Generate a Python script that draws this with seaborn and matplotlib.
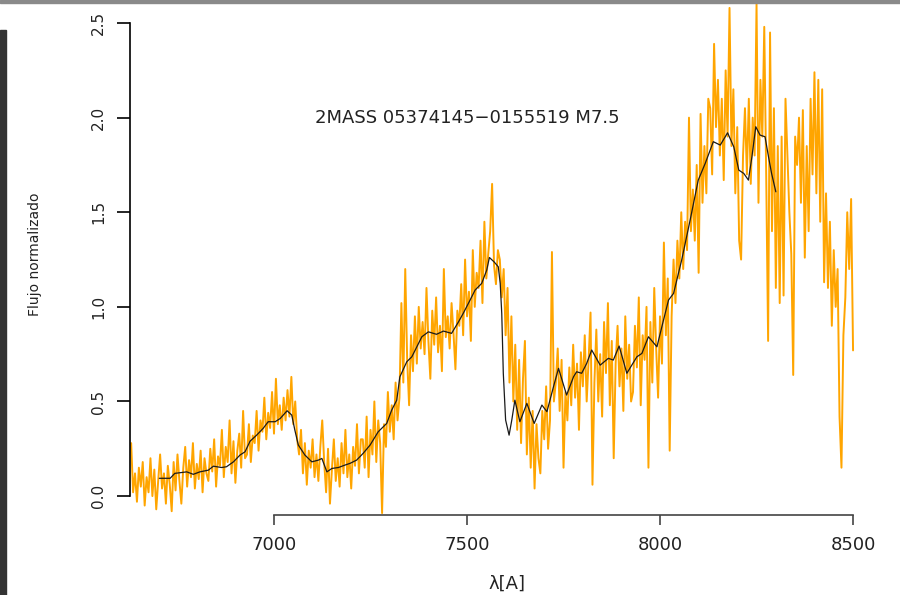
import numpy as np
import pandas as pd
import matplotlib
matplotlib.use('Agg')
import matplotlib.pyplot as plt
from matplotlib.patches import Rectangle
import seaborn as sns

# Espectro observado (flujo normalizado), muestreo cada 5 A desde 6630 hasta 8500
lam_start, lam_step = 6630, 5
flux_6630 = [0.28, 0.02, 0.12, -0.03, 0.15, 0.05, 0.18, -0.05, 0.10, 0.02, 0.20, 0.00, 0.14, -0.07, 0.08, 0.22, 0.04, 0.12, -0.04, 0.16]
flux_6730 = [0.06, -0.08, 0.18, 0.03, 0.22, 0.08, -0.04, 0.15, 0.26, 0.05, 0.19, 0.10, 0.28, 0.04, 0.17, 0.09, 0.24, 0.02, 0.20, 0.12]
flux_6830 = [0.08, 0.25, 0.13, 0.30, 0.05, 0.21, 0.16, 0.35, 0.10, 0.26, 0.18, 0.40, 0.12, 0.29, 0.07, 0.24, 0.33, 0.15, 0.45, 0.20]
flux_6930 = [0.22, 0.38, 0.18, 0.32, 0.28, 0.45, 0.24, 0.40, 0.34, 0.52, 0.30, 0.44, 0.36, 0.55, 0.33, 0.62, 0.38, 0.48, 0.35, 0.52]
flux_7030 = [0.40, 0.56, 0.42, 0.63, 0.38, 0.50, 0.30, 0.22, 0.35, 0.12, 0.28, 0.06, 0.24, 0.15, 0.30, 0.10, 0.22, 0.08, 0.26, 0.40]
flux_7130 = [0.18, 0.02, 0.25, -0.04, 0.14, 0.30, 0.08, 0.20, 0.05, 0.28, 0.12, 0.35, 0.10, 0.22, 0.04, 0.26, 0.16, 0.38, 0.12, 0.30]
flux_7230 = [0.30, 0.15, 0.42, 0.10, 0.35, 0.22, 0.50, 0.18, 0.40, 0.28, -0.09, 0.38, 0.26, 0.55, 0.34, 0.48, 0.30, 0.60, 0.40, 0.52]
flux_7330 = [1.02, 0.60, 1.20, 0.72, 0.48, 0.85, 0.66, 0.95, 0.70, 1.00, 0.78, 0.92, 0.75, 1.10, 0.82, 0.62, 0.98, 0.80, 1.05, 0.76]
flux_7430 = [0.90, 0.66, 1.20, 0.84, 0.95, 0.78, 1.02, 0.86, 0.67, 0.98, 0.90, 1.12, 0.85, 1.25, 0.95, 1.08, 0.82, 1.30, 1.00, 1.18]
flux_7530 = [1.10, 1.35, 1.02, 1.45, 1.15, 1.28, 1.40, 1.65, 1.22, 1.12, 1.30, 1.25, 1.05, 1.20, 0.85, 1.10, 0.60, 0.95, 0.50, 0.80]
flux_7630 = [0.35, 0.72, 0.28, 0.62, 0.82, 0.22, 0.52, 0.15, 0.45, 0.04, 0.38, 0.20, 0.12, 0.45, 0.30, 0.58, 0.25, 0.40, 1.29, 0.50]
flux_7730 = [0.60, 0.78, 0.45, 0.72, 0.15, 0.55, 0.40, 0.68, 0.48, 0.80, 0.52, 0.70, 0.35, 0.76, 0.58, 0.85, 0.50, 0.72, 0.97, 0.06]
flux_7830 = [0.60, 0.88, 0.50, 0.75, 0.42, 0.92, 0.65, 1.02, 0.48, 0.82, 0.20, 0.70, 0.90, 0.58, 0.78, 0.45, 0.95, 0.62, 0.80, 0.50]
flux_7930 = [0.55, 0.90, 0.68, 1.05, 0.48, 0.85, 0.72, 1.00, 0.15, 0.92, 0.60, 1.10, 0.78, 0.52, 0.95, 0.70, 1.34, 0.85, 1.15, 0.24]
flux_8030 = [0.95, 1.25, 1.02, 1.35, 1.15, 1.50, 1.20, 1.45, 1.30, 2.00, 1.40, 1.62, 1.35, 1.75, 1.18, 2.02, 1.55, 1.85, 1.60, 2.10]
flux_8130 = [2.05, 1.70, 2.39, 1.95, 2.20, 1.80, 2.10, 1.67, 2.25, 1.90, 2.58, 1.85, 2.15, 1.60, 1.95, 1.35, 1.25, 1.80, 2.05, 1.70]
flux_8230 = [2.10, 1.65, 2.00, 1.80, 2.60, 1.55, 2.20, 1.90, 2.48, 1.70, 0.82, 2.45, 1.40, 2.05, 1.10, 1.85, 1.02, 1.90, 1.06, 2.10]
flux_8330 = [1.80, 1.50, 1.28, 0.64, 1.90, 1.75, 2.00, 1.55, 2.04, 1.26, 1.85, 1.40, 2.10, 1.70, 2.24, 1.60, 2.20, 1.45, 2.15, 1.13]
flux_8430 = [1.60, 1.10, 1.45, 0.90, 1.30, 1.00, 1.20, 0.42, 0.15, 0.85, 1.05, 1.50, 1.20, 1.57, 0.77]

# Espectro suavizado (linea negra)
smooth_lam = [6703, 6731, 6743, 6774, 6791, 6808, 6830, 6843, 6864, 6877, 6895, 6912, 6925, 6938,
              6955, 6972, 6985, 7003, 7016, 7034, 7046, 7054, 7063, 7080, 7098, 7115, 7124, 7137,
              7150, 7167, 7184, 7197, 7214, 7231, 7249, 7270, 7292, 7305, 7318, 7326, 7344, 7357,
              7370, 7383, 7400, 7421, 7439, 7460, 7478, 7490, 7508, 7521, 7538, 7551, 7558, 7570,
              7581, 7586, 7590, 7594, 7600, 7609, 7616, 7624, 7637, 7655, 7674, 7694, 7707, 7724,
              7737, 7758, 7776, 7784, 7797, 7810, 7823, 7845, 7866, 7879, 7894, 7914, 7940, 7953,
              7970, 7992, 8009, 8022, 8035, 8056, 8078, 8099, 8117, 8138, 8156, 8175, 8191, 8204,
              8217, 8229, 8238, 8248, 8259, 8272, 8281, 8289, 8300]
smooth_flux = [0.094, 0.094, 0.12, 0.128, 0.115, 0.128, 0.137, 0.158, 0.151, 0.155, 0.181, 0.217, 0.234, 0.29,
               0.322, 0.358, 0.393, 0.393, 0.41, 0.451, 0.428, 0.349, 0.27, 0.217, 0.181, 0.19, 0.199, 0.128,
               0.146, 0.151, 0.164, 0.173, 0.19, 0.226, 0.27, 0.34, 0.384, 0.455, 0.507, 0.63, 0.71, 0.736,
               0.789, 0.842, 0.868, 0.855, 0.872, 0.86, 0.921, 0.965, 1.036, 1.089, 1.124, 1.194, 1.261, 1.238,
               1.212, 1.124, 0.965, 0.649, 0.402, 0.322, 0.402, 0.507, 0.393, 0.49, 0.384, 0.481, 0.446, 0.578,
               0.675, 0.534, 0.631, 0.657, 0.649, 0.701, 0.772, 0.692, 0.728, 0.719, 0.793, 0.649, 0.736, 0.754,
               0.842, 0.789, 0.93, 1.036, 1.071, 1.247, 1.459, 1.67, 1.758, 1.873, 1.855, 1.92, 1.846, 1.723,
               1.705, 1.67, 1.793, 1.952, 1.908, 1.899, 1.793, 1.705, 1.608]

title_text = '2MASS 05374145\u22120155519 M7.5'

flux = np.concatenate([flux_6630, flux_6730, flux_6830, flux_6930, flux_7030, flux_7130,
                       flux_7230, flux_7330, flux_7430, flux_7530, flux_7630, flux_7730,
                       flux_7830, flux_7930, flux_8030, flux_8130, flux_8230, flux_8330, flux_8430])
df = pd.DataFrame({'lam': lam_start + lam_step * np.arange(len(flux)), 'flux': flux})
df_s = pd.DataFrame({'lam': smooth_lam, 'flux': smooth_flux})

sns.set_style('white')
plt.rcParams['font.family'] = ['DejaVu Sans']

fig = plt.figure(figsize=(9, 5.95), dpi=100)
ax = fig.add_axes([130 / 900, 1 - 515 / 595, 730 / 900, 512 / 595])

sns.lineplot(data=df, x='lam', y='flux', ax=ax, color='orange', linewidth=1.4,
             estimator=None, sort=False)
sns.lineplot(data=df_s, x='lam', y='flux', ax=ax, color='#1a1a1a', linewidth=0.9,
             estimator=None, sort=False)

ax.set_xlim(6627, 8518)
ax.set_ylim(-0.10, 2.606)

ax.text(7500, 2.0, title_text, ha='center', va='center', fontsize=13, color='#222222')

# ejes estilo R
for s in ['top', 'right']:
    ax.spines[s].set_visible(False)
ax.spines['left'].set_bounds(0, 2.5)
ax.spines['bottom'].set_bounds(7000, 8500)
ax.spines['left'].set_color('black')
ax.spines['bottom'].set_color('#444444')
ax.spines['left'].set_linewidth(1.2)
ax.spines['bottom'].set_linewidth(1.2)

ax.set_xticks([7000, 7500, 8000, 8500])
ax.set_yticks([0.0, 0.5, 1.0, 1.5, 2.0, 2.5])
ax.set_yticklabels(['0.0', '0.5', '1.0', '1.5', '2.0', '2.5'])
ax.tick_params(axis='x', direction='out', length=7.2, width=1.2, color='#444444',
               labelsize=13, pad=8, labelcolor='#222222', bottom=True)
ax.tick_params(axis='y', direction='out', length=9.4, width=1.2, color='black',
               labelsize=11, pad=8, labelcolor='#222222', labelrotation=90, left=True)
for lbl in ax.get_yticklabels():
    lbl.set_va('center')

ax.set_xlabel('\u03bb[A]', fontsize=13, color='#222222')
ax.xaxis.set_label_coords(377 / 730, -60 / 512)
ax.set_ylabel('Flujo normalizado', fontsize=10, color='#222222')
ax.yaxis.set_label_coords(-88 / 730, 1 - (254 - 3) / 512)
ax.grid(False)

# bordes de la captura
fig.patches.append(Rectangle((0, 0), 6 / 900, 565 / 595, transform=fig.transFigure,
                             color='#333333', zorder=0))
fig.patches.append(Rectangle((0, 1 - 3 / 595), 1, 3 / 595, transform=fig.transFigure,
                             color='#8a8a8a', zorder=0))

fig.savefig('out.png', dpi=100)
